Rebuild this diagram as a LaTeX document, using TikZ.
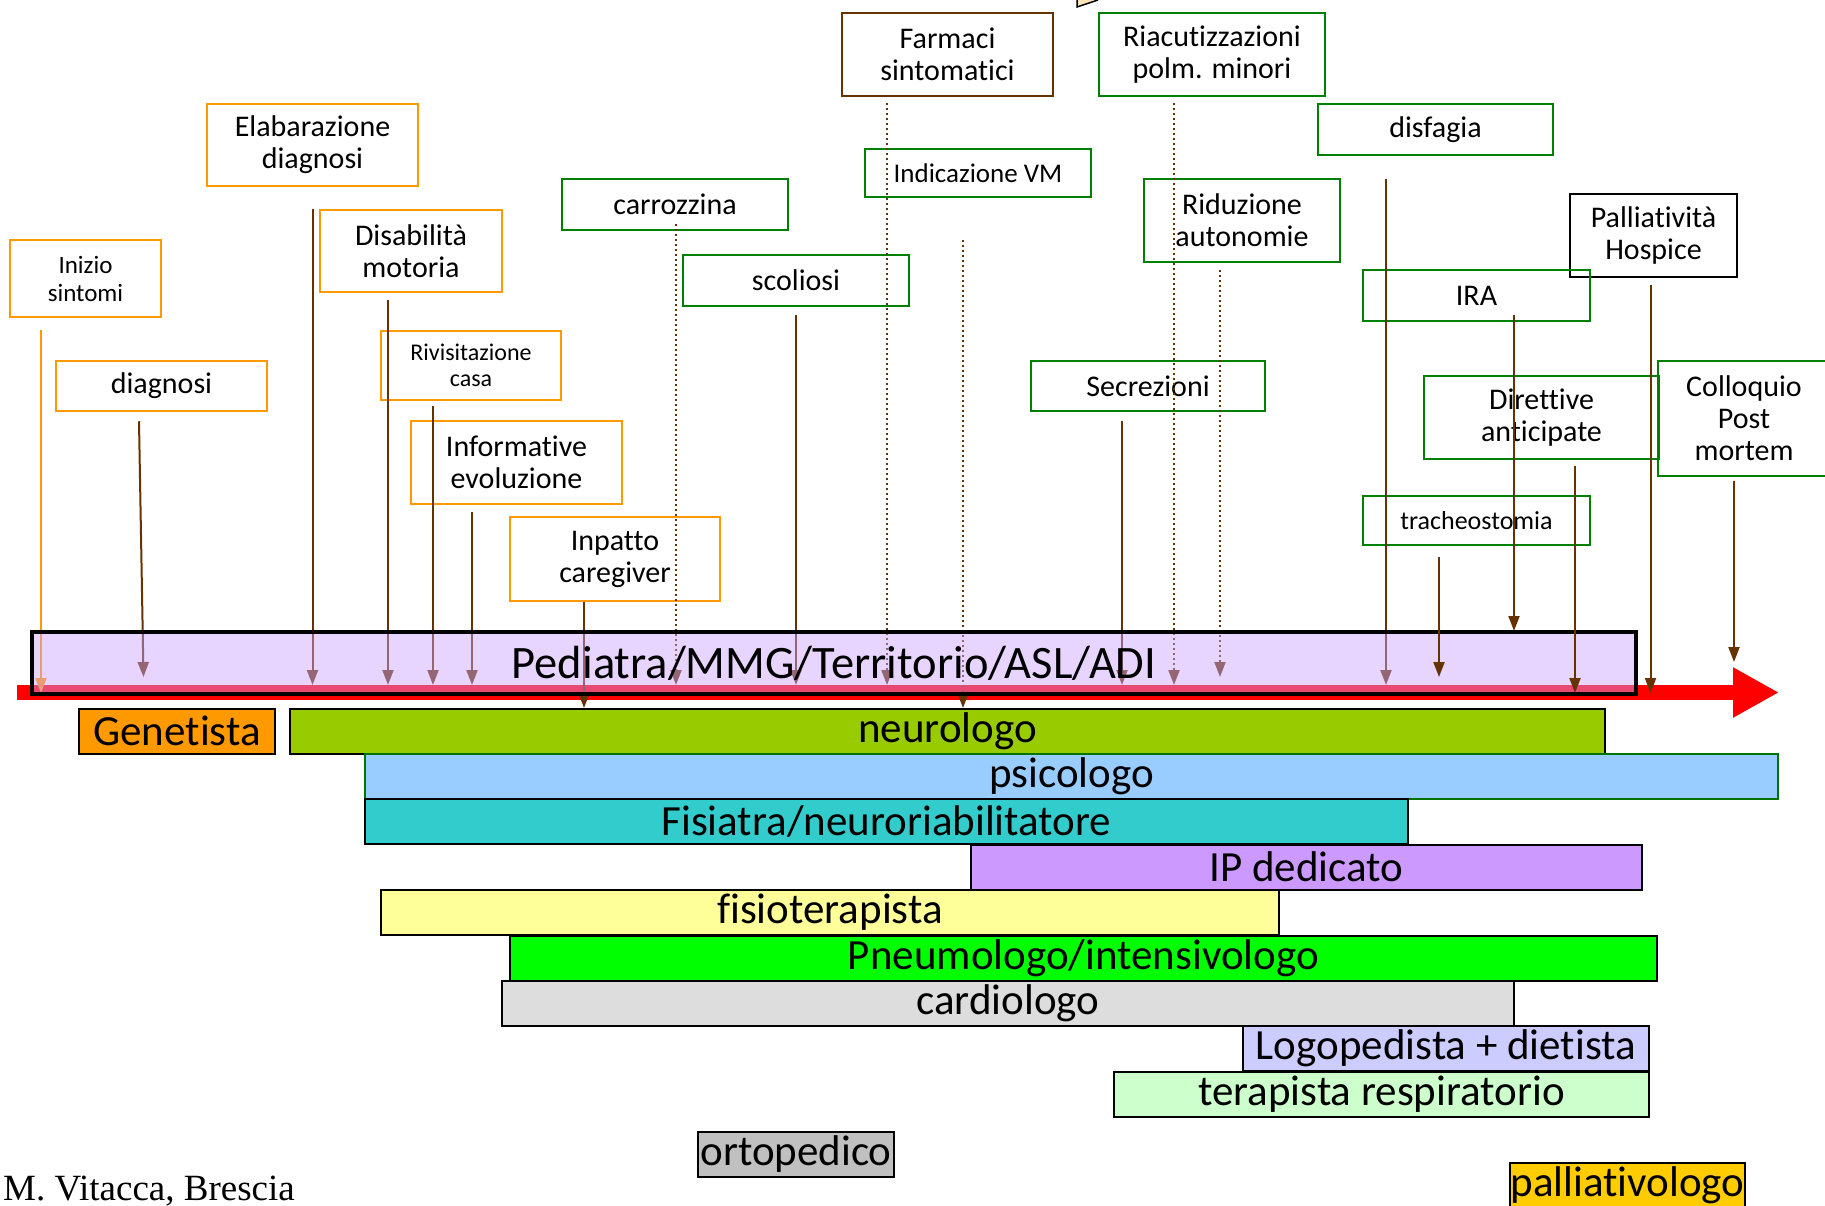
\documentclass[tikz,border=0pt]{standalone}
\usepackage{fontspec}
\setmainfont{Carlito}[Ligatures=NoCommon]
\newfontfamily\signfont{Liberation Serif}
\usetikzlibrary{arrows.meta}

\definecolor{evorange}{HTML}{FF9900}
\definecolor{evgreen}{HTML}{008000}
\definecolor{evbrown}{HTML}{663300}
\definecolor{lanepurple}{HTML}{CCA2FF}
\definecolor{peach}{HTML}{FFE2B8}

\tikzset{
  ev/.style={draw, line width=2.5pt, align=center, inner sep=0pt, font=\fontsize{30}{32}\selectfont},
  oev/.style={ev, draw=evorange},
  gev/.style={ev, draw=evgreen},
  arr/.style={evbrown, line width=2pt, -{Triangle[length=15pt,width=11pt]}},
  darr/.style={arr, dash pattern=on 2pt off 3pt},
  bar/.style={draw=black, line width=2pt, inner sep=0pt, minimum height=45pt, font=\fontsize{43}{45}\selectfont},
  timeline/.style={red, line width=15pt, -{Triangle[length=46pt,width=47pt]}}
}

\begin{document}
\begin{tikzpicture}[x=1pt,y=-1pt]
    \useasboundingbox (0,0) rectangle (1825,1206);
    \clip (0,0) rectangle (1825,1206);

    \fill[peach] (1077,0) -- (1077,7) -- (1098,0) -- cycle;
    \draw[line width=1.5pt] (1077,0) -- (1077,7) -- (1098,0);

    \node[oev, font=\fontsize{25}{28}\selectfont, minimum width=151pt, minimum height=77pt] (inizio) at (85.5,278.5) {Inizio\\sintomi};
    \node[oev, minimum width=211pt, minimum height=82pt] (elab) at (312.5,145) {Elabarazione\\diagnosi};
    \node[oev, minimum width=211pt, minimum height=50pt] (diag) at (161.5,386) {diagnosi};
    \node[oev, minimum width=182pt, minimum height=82pt] (disab) at (411,251) {Disabilità\\motoria};
    \node[oev, font=\fontsize{24}{26}\selectfont, minimum width=180pt, minimum height=69pt] (rivis) at (471,365.5) {Rivisitazione\\casa};
    \node[oev, minimum width=211pt, minimum height=83pt] (inform) at (516.5,462.5) {Informative\\evoluzione};
    \node[oev, minimum width=210pt, minimum height=84pt] (inpatto) at (615,559) {Inpatto\\caregiver};

    \node[gev, minimum width=226pt, minimum height=51pt] (carroz) at (675,204.5) {carrozzina};
    \node[gev, minimum width=226pt, minimum height=51pt] (scol) at (796,280.5) {scoliosi};
    \node[ev, draw=evbrown, minimum width=211pt, minimum height=83pt] (farm) at (947.5,54.5) {Farmaci\\sintomatici};
    \node[gev, font=\fontsize{27}{29}\selectfont, minimum width=226pt, minimum height=48pt] (indic) at (978,173) {Indicazione VM};
    \node[gev, minimum width=226pt, minimum height=83pt] (riacut) at (1212,54.5) {Riacutizzazioni\\polm. minori};
    \node[gev, minimum width=235pt, minimum height=51pt] (disf) at (1435.5,129.5) {disfagia};
    \node[gev, minimum width=196pt, minimum height=83pt] (ridu) at (1242,220.5) {Riduzione\\autonomie};
    \node[gev, minimum width=234pt, minimum height=50pt] (secr) at (1148,386) {Secrezioni};
    \node[ev, draw=black, minimum width=167pt, minimum height=83pt] (pall) at (1653.5,235.5) {Palliatività\\Hospice};
    \node[gev, minimum width=227pt, minimum height=51pt] (ira) at (1476.5,295.5) {IRA};
    \node[gev, minimum width=235pt, minimum height=83pt] (dirett) at (1541.5,417.5) {Direttive\\anticipate};
    \node[gev, minimum width=172pt, minimum height=115pt] (collo) at (1744,418.5) {Colloquio\\Post\\mortem};
    \node[gev, font=\fontsize{26}{28}\selectfont, minimum width=227pt, minimum height=49pt] (trach) at (1476.5,520.5) {tracheostomia};

    \coordinate (t0) at (17,692.5);
    \coordinate (t1) at (1779,692.5);
    \coordinate (lane) at (0,685);
    \coordinate (lanetop) at (0,677);
    \coordinate (laneend) at (0,693);
    \coordinate (lanelow) at (0,708);
    \coordinate (lanehigh) at (0,631);
    \coordinate (lanemid) at (0,662);
    \coordinate (diagend) at (143.5,677);

    \draw[timeline] (t0) -- (t1);

    \node[bar, fill={rgb,255:red,255;green,153;blue,0}, minimum width=196pt] (gen) at (177,731) {Genetista};
    \node[bar, fill={rgb,255:red,153;green,204;blue,0}, minimum width=1315pt] (neuro) at (947.5,731) {neurologo};
    \node[bar, draw=green!45!black, fill={rgb,255:red,153;green,204;blue,255}, minimum width=1413pt] (psico) at (1071.5,776.5) {psicologo};
    \node[bar, fill={rgb,255:red,51;green,204;blue,204}, minimum width=1043pt] (fisiatra) at (886.5,821.5) {Fisiatra/neuroriabilitatore};
    \node[bar, fill={rgb,255:red,204;green,153;blue,255}, minimum width=671pt] (ip) at (1306.5,867) {IP dedicato};
    \node[bar, fill={rgb,255:red,255;green,255;blue,153}, minimum width=898pt] (fisio) at (830,912.5) {fisioterapista};
    \node[bar, fill={rgb,255:red,0;green,255;blue,0}, minimum width=1147pt] (pneumo) at (1083.5,958) {Pneumologo/intensivologo};
    \node[bar, fill={rgb,255:red,221;green,221;blue,221}, minimum width=1012pt] (cardio) at (1008,1003.5) {cardiologo};
    \node[bar, fill={rgb,255:red,204;green,204;blue,255}, minimum width=406pt] (logo) at (1446,1048.5) {Logopedista + dietista};
    \node[bar, fill={rgb,255:red,204;green,255;blue,204}, minimum width=535pt] (terap) at (1381.5,1094) {terapista respiratorio};
    \node[bar, fill={rgb,255:red,192;green,192;blue,192}, minimum width=196pt] (orto) at (796,1154.5) {ortopedico};
    \node[bar, fill={rgb,255:red,255;green,204;blue,0}, minimum width=227pt] (pallv) at (1627.5,1185) {palliativologo};

    \draw[arr, evorange] ([xshift=-44.5pt,yshift=-12pt]inizio.south) -- ([xshift=-44.5pt]inizio.south |- laneend);
    \draw[arr] ([xshift=-22.5pt,yshift=-9pt]diag.south) -- (diagend);
    \foreach \n/\dx/\gap/\e in {elab/0/-22/lane, disab/-23/-7/lane, rivis/-38/-5/lane,
        inform/-44.5/-7/lane, inpatto/-31/0/lanelow, scol/0/-8/lane, secr/-26/-9/lane,
        disf/-49.5/-23/lane, ira/37.5/7/lanehigh, collo/-10/-4/lanemid}
        \draw[arr] ([xshift=\dx pt,yshift=\gap pt]\n.south) -- ([xshift=\dx pt]\n.south |- \e);
    \foreach \n/\dx/\gap/\e in {carroz/1/7/lane, farm/-60.5/-6/lane, indic/-15/-42/lanelow,
        riacut/-38/-6/lane, ridu/-22/-7/lanetop}
        \draw[darr] ([xshift=\dx pt,yshift=\gap pt]\n.south) -- ([xshift=\dx pt]\n.south |- \e);

    \node[draw=black, line width=4.5pt, fill=lanepurple, fill opacity=.45, text opacity=1,
        minimum width=1604pt, minimum height=62pt, inner sep=0pt,
        font=\fontsize{46.5}{48}\selectfont] (pmmg) at (834,663) {Pediatra/MMG/Territorio/ASL/ADI};

    \foreach \n/\dx/\gap/\e in {trach/-37.5/-11/lanetop, dirett/33.5/-6/laneend, pall/-3/-7/laneend}
        \draw[arr] ([xshift=\dx pt,yshift=\gap pt]\n.south) -- ([xshift=\dx pt]\n.south |- \e);

    \node[font=\signfont\fontsize{37}{40}\selectfont, anchor=base west, inner sep=0pt] (firma) at (3,1200) {M. Vitacca, Brescia};
\end{tikzpicture}
\end{document}
